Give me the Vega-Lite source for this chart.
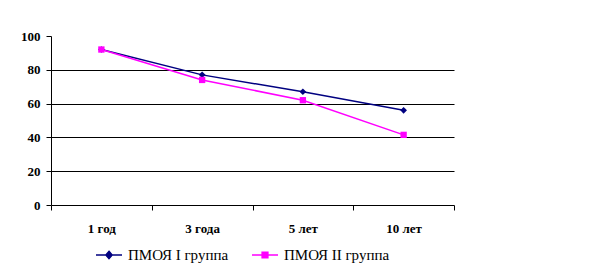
{
  "$schema": "https://vega.github.io/schema/vega-lite/v6.json",
  "width": 403,
  "height": 169,
  "autosize": "none",
  "padding": {"left": 51, "top": 36, "right": 135, "bottom": 72},
  "background": "white",
  "config": {"view": {"stroke": null}},
  "data": {"values": [
    {"period": "1 год", "group": "ПМОЯ I группа", "value": 92},
    {"period": "3 года", "group": "ПМОЯ I группа", "value": 77},
    {"period": "5 лет", "group": "ПМОЯ I группа", "value": 67},
    {"period": "10 лет", "group": "ПМОЯ I группа", "value": 56},
    {"period": "1 год", "group": "ПМОЯ II группа", "value": 92},
    {"period": "3 года", "group": "ПМОЯ II группа", "value": 74},
    {"period": "5 лет", "group": "ПМОЯ II группа", "value": 62},
    {"period": "10 лет", "group": "ПМОЯ II группа", "value": 41.5}
  ]},
  "encoding": {
    "x": {
      "field": "period", "type": "nominal",
      "sort": ["1 год", "3 года", "5 лет", "10 лет"],
      "scale": {"paddingInner": 0, "paddingOuter": 0},
      "axis": {
        "title": null, "labelAngle": 0, "grid": false, "tickBand": "extent",
        "labelFont": "Liberation Serif", "labelFontWeight": "bold", "labelFontSize": 13,
        "labelColor": "black", "domainColor": "black", "tickColor": "black",
        "tickSize": 5, "labelPadding": 12, "domainWidth": 1, "tickWidth": 1
      }
    },
    "y": {
      "field": "value", "type": "quantitative",
      "scale": {"domain": [0, 100], "nice": false, "zero": true},
      "axis": {
        "title": null, "values": [0, 20, 40, 60, 80, 100], "grid": true,
        "gridColor": {"condition": {"test": "datum.value >= 100 || datum.value <= 0", "value": "transparent"}, "value": "black"},
        "gridWidth": 1, "gridOpacity": 1,
        "labelFont": "Liberation Serif", "labelFontWeight": "bold", "labelFontSize": 13,
        "labelColor": "black", "domainColor": "black", "tickColor": "black",
        "tickSize": 5, "labelPadding": 6, "domainWidth": 1, "tickWidth": 1
      }
    },
    "color": {
      "field": "group", "type": "nominal",
      "scale": {"domain": ["ПМОЯ I группа", "ПМОЯ II группа"], "range": ["#000080", "#FF00FF"]},
      "legend": {
        "title": null, "orient": "none", "direction": "horizontal", "columns": 2,
        "legendX": 44, "legendY": 205, "padding": 0,
        "columnPadding": 20,
        "labelFont": "Liberation Serif", "labelFontSize": 15, "labelColor": "black",
        "labelOffset": 5, "symbolSize": 676, "symbolStrokeWidth": 1.5,
        "encode": {
          "symbols": {
            "update": {
              "shape": {"signal": "datum.value === 'ПМОЯ I группа' ? 'M-1,0H1M0,-0.28L0.24,0L0,0.28L-0.24,0Z' : 'M-1,0H1M-0.22,-0.22H0.22V0.22H-0.22Z'"},
              "fill": {"scale": "color", "field": "value"},
              "stroke": {"scale": "color", "field": "value"},
              "strokeWidth": {"value": 1.5},
              "opacity": {"value": 1}
            }
          }
        }
      }
    }
  },
  "layer": [
    {"mark": {"type": "line", "strokeWidth": 1.5}},
    {
      "transform": [{"filter": "datum.group === 'ПМОЯ I группа'"}],
      "mark": {"type": "point", "filled": true, "opacity": 1, "size": 45, "shape": "diamond"}
    },
    {
      "transform": [{"filter": "datum.group === 'ПМОЯ II группа'"}],
      "mark": {"type": "point", "filled": true, "opacity": 1, "size": 40, "shape": "square"}
    }
  ]
}
